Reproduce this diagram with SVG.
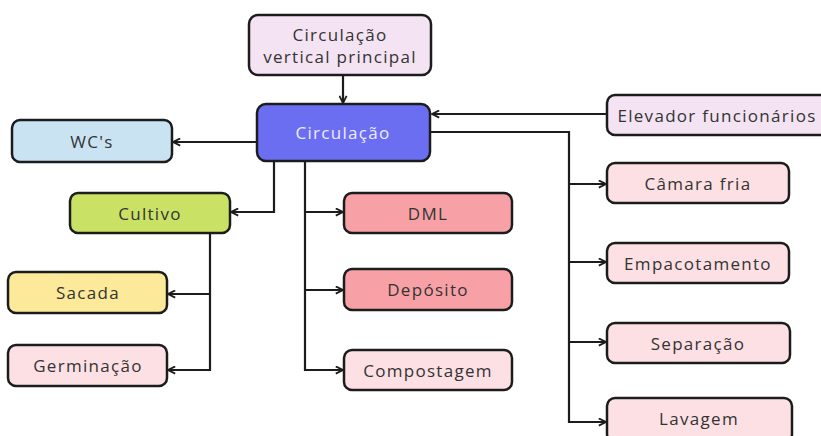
<svg xmlns="http://www.w3.org/2000/svg" width="821" height="436" viewBox="0 0 821 436">
<style>
.box{stroke:#1c1c1c;stroke-width:2.5}
.t{font-family:"Open Sans","DejaVu Sans",sans-serif;font-size:17px;fill:#333;text-anchor:middle;dominant-baseline:central;letter-spacing:1.3px}
.c{fill:none;stroke:#1c1c1c;stroke-width:2.2}
</style>
<defs>
<marker id="ah" viewBox="0 0 10 10" refX="9" refY="5" markerWidth="9" markerHeight="9" markerUnits="userSpaceOnUse" orient="auto">
<path d="M1,1 L9,5 L1,9" fill="none" stroke="#1c1c1c" stroke-width="2"/>
</marker>
</defs>
<rect width="821" height="436" fill="#ffffff"/>
<g id="connectors">
<path class="c" d="M343,75 V103" marker-end="url(#ah)"/>
<path class="c" d="M257,142 H173" marker-end="url(#ah)"/>
<path class="c" d="M274,162 V212 H231" marker-end="url(#ah)"/>
<path class="c" d="M210,233 V370 H168" marker-end="url(#ah)"/>
<path class="c" d="M210,294 H168" marker-end="url(#ah)"/>
<path class="c" d="M305,162 V370 H343" marker-end="url(#ah)"/>
<path class="c" d="M305,212 H343" marker-end="url(#ah)"/>
<path class="c" d="M305,290 H343" marker-end="url(#ah)"/>
<path class="c" d="M607,114 H432" marker-end="url(#ah)"/>
<path class="c" d="M430,132 H569 V422 H606" marker-end="url(#ah)"/>
<path class="c" d="M569,184 H606" marker-end="url(#ah)"/>
<path class="c" d="M569,262 H606" marker-end="url(#ah)"/>
<path class="c" d="M569,342 H606" marker-end="url(#ah)"/>
</g>
<g id="n-vertical"><rect class="box" x="249" y="15" width="182" height="60" rx="9" fill="#f4e3f2"/><text class="t" x="340" y="34">Circulação</text><text class="t" x="340" y="56">vertical principal</text></g>
<g id="n-circulacao"><rect class="box" x="257" y="104" width="173" height="57" rx="9" fill="#6c6ef2"/><text class="t" x="343" y="132" style="fill:#ececff">Circulação</text></g>
<g id="n-wcs"><rect class="box" x="12" y="120" width="160" height="42" rx="8" fill="#c9e3f3"/><text class="t" x="92" y="141">WC's</text></g>
<g id="n-cultivo"><rect class="box" x="70" y="193" width="160" height="40" rx="8" fill="#c9e265"/><text class="t" x="150" y="213">Cultivo</text></g>
<g id="n-sacada"><rect class="box" x="8" y="272" width="159" height="41" rx="8" fill="#fde99a"/><text class="t" x="88" y="292">Sacada</text></g>
<g id="n-germinacao"><rect class="box" x="8" y="345" width="159" height="41" rx="8" fill="#fde0e4"/><text class="t" x="88" y="365">Germinação</text></g>
<g id="n-dml"><rect class="box" x="344" y="193" width="168" height="40" rx="8" fill="#f7a1a7"/><text class="t" x="428" y="213">DML</text></g>
<g id="n-deposito"><rect class="box" x="344" y="269" width="168" height="41" rx="8" fill="#f7a1a7"/><text class="t" x="428" y="289">Depósito</text></g>
<g id="n-compostagem"><rect class="box" x="344" y="350" width="168" height="40" rx="8" fill="#fde0e4"/><text class="t" x="428" y="370">Compostagem</text></g>
<g id="n-elevador"><rect class="box" x="607" y="95" width="222" height="40" rx="8" fill="#f4e3f2"/><text class="t" x="717" y="115">Elevador funcionários</text></g>
<g id="n-camara"><rect class="box" x="607" y="163" width="182" height="40" rx="8" fill="#fde0e4"/><text class="t" x="698" y="183">Câmara fria</text></g>
<g id="n-empacotamento"><rect class="box" x="607" y="243" width="182" height="40" rx="8" fill="#fde0e4"/><text class="t" x="698" y="263">Empacotamento</text></g>
<g id="n-separacao"><rect class="box" x="607" y="323" width="183" height="40" rx="8" fill="#fde0e4"/><text class="t" x="698" y="343">Separação</text></g>
<g id="n-lavagem"><rect class="box" x="607" y="398" width="185" height="44" rx="8" fill="#fde0e4"/><text class="t" x="699" y="418">Lavagem</text></g>
</svg>
